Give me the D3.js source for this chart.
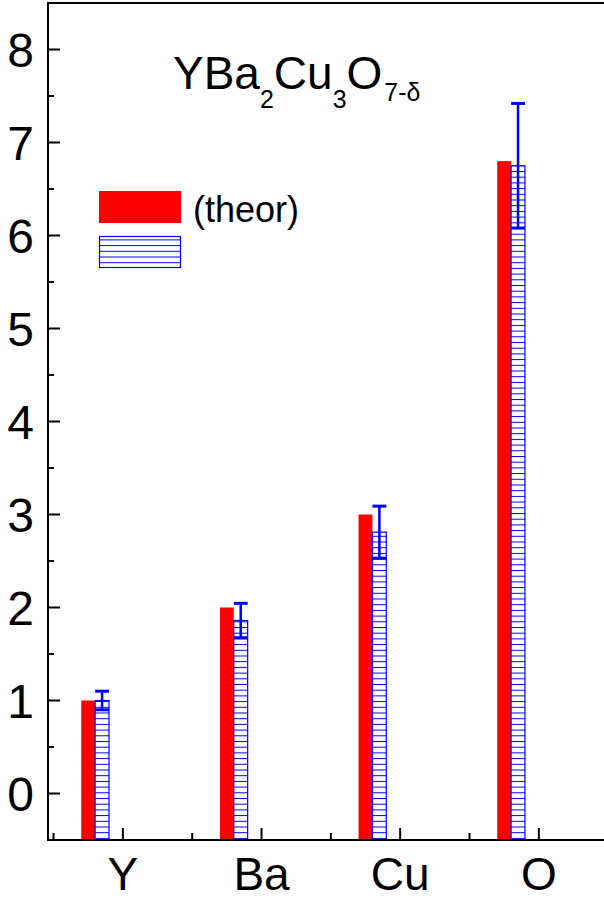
<!DOCTYPE html>
<html>
<head>
<meta charset="utf-8">
<script src="https://cdn.jsdelivr.net/npm/d3@7/dist/d3.min.js"></script>
<style>
  body { margin: 0; background: #fff; }
  svg { display: block; font-family: "Liberation Sans", Arial, Helvetica, sans-serif; }
</style>
</head>
<body>
<svg id="chart" width="604" height="902"></svg>
<script>
// datos
const categories = ["Y", "Ba", "Cu", "O"];
const theor = [1, 2, 3, 6.8];
const measured = [1.0, 1.86, 2.81, 6.75];
const measuredErr = [0.1, 0.185, 0.28, 0.67];
const yTicks = [0, 1, 2, 3, 4, 5, 6, 7, 8];
const yMinorTicks = [0.5, 1.5, 2.5, 3.5, 4.5, 5.5, 6.5, 7.5];
const xMinorTicks = [-0.5, 0.5, 1.5, 2.5];

const svg = d3.select("#chart");

const plotLeft = 48, plotRight = 604, plotTop = 3, plotBottom = 840;
const barW = 0.1; // en unidades de categoría

// Escalas
const x = d3.scaleLinear().domain([-0.54, 3.47]).range([plotLeft, plotRight]);
const y = d3.scaleLinear().domain([-0.5, 8.5]).range([plotBottom, plotTop]);

// Patrón de rayado horizontal
const defs = svg.append("defs");
const pat = defs.append("pattern")
  .attr("id", "hatch")
  .attr("patternUnits", "userSpaceOnUse")
  .attr("width", 20)
  .attr("height", 5.7);
pat.append("rect").attr("width", 20).attr("height", 5.7).attr("fill", "#fff");
pat.append("line")
  .attr("x1", 0).attr("x2", 20)
  .attr("y1", 0.5).attr("y2", 0.5)
  .attr("stroke", "#0000ff")
  .attr("stroke-width", 1);

// Barras teóricas (rojas)
svg.append("g")
  .selectAll("rect")
  .data(theor)
  .enter()
  .append("rect")
  .attr("x", (d, i) => x(i - 0.3))
  .attr("width", x(barW) - x(0))
  .attr("y", (d) => y(d))
  .attr("height", (d) => y(-0.5) - y(d))
  .attr("fill", "#ff0000");

// Barras medidas (rayadas)
svg.append("g")
  .selectAll("rect")
  .data(measured)
  .enter()
  .append("rect")
  .attr("x", (d, i) => x(i - 0.2))
  .attr("width", x(barW) - x(0))
  .attr("y", (d) => y(d))
  .attr("height", (d) => y(-0.5) - y(d))
  .attr("fill", "url(#hatch)")
  .attr("stroke", "#0000ff")
  .attr("stroke-width", 1.2);

// Barras de error
const errG = svg.append("g").attr("stroke", "#0000ff");
measured.forEach((d, i) => {
  const cx = x(i - 0.15);
  const hw = (x(barW) - x(0)) / 2;
  const e = measuredErr[i];
  errG.append("line")
    .attr("x1", cx).attr("x2", cx)
    .attr("y1", y(d + e)).attr("y2", y(d - e))
    .attr("stroke-width", 2.5);
  [d + e, d - e].forEach((v) => {
    errG.append("line")
      .attr("x1", cx - hw).attr("x2", cx + hw)
      .attr("y1", y(v)).attr("y2", y(v))
      .attr("stroke-width", 3);
  });
});

// Ejes
const axes = svg.append("g").attr("stroke", "#000").attr("stroke-width", 2);
axes.append("line").attr("x1", plotLeft).attr("x2", plotLeft).attr("y1", plotTop).attr("y2", plotBottom + 1);
axes.append("line").attr("x1", plotLeft - 1).attr("x2", plotRight).attr("y1", plotBottom).attr("y2", plotBottom);
axes.append("line").attr("x1", plotLeft - 1).attr("x2", plotRight).attr("y1", plotTop).attr("y2", plotTop);

// Ticks Y (hacia dentro)
axes.selectAll(".ymaj")
  .data(yTicks)
  .enter()
  .append("line")
  .attr("x1", plotLeft).attr("x2", plotLeft + 12)
  .attr("y1", (d) => y(d)).attr("y2", (d) => y(d));
axes.selectAll(".ymin")
  .data(yMinorTicks)
  .enter()
  .append("line")
  .attr("x1", plotLeft).attr("x2", plotLeft + 6)
  .attr("y1", (d) => y(d)).attr("y2", (d) => y(d));

// Ticks X
axes.selectAll(".xmaj")
  .data(categories)
  .enter()
  .append("line")
  .attr("x1", (d, i) => x(i)).attr("x2", (d, i) => x(i))
  .attr("y1", plotBottom).attr("y2", plotBottom - 12);
axes.selectAll(".xmin")
  .data(xMinorTicks)
  .enter()
  .append("line")
  .attr("x1", (d) => x(d)).attr("x2", (d) => x(d))
  .attr("y1", plotBottom).attr("y2", plotBottom - 7);

// Etiquetas de ticks
svg.append("g")
  .selectAll("text")
  .data(yTicks)
  .enter()
  .append("text")
  .attr("x", 34)
  .attr("y", (d) => y(d) + 17)
  .attr("text-anchor", "end")
  .attr("font-size", 48)
  .text((d) => d);

svg.append("g")
  .selectAll("text")
  .data(categories)
  .enter()
  .append("text")
  .attr("x", (d, i) => x(i))
  .attr("y", 890)
  .attr("text-anchor", "middle")
  .attr("font-size", 46)
  .text((d) => d);

// Título con subíndices
const title = svg.append("text")
  .attr("x", 173)
  .attr("y", 89)
  .attr("font-size", 46);
title.append("tspan").text("YBa");
title.append("tspan").attr("font-size", 25).attr("dy", 19).text("2");
title.append("tspan").attr("dy", -19).text("Cu");
title.append("tspan").attr("font-size", 25).attr("dy", 19).text("3");
title.append("tspan").attr("dy", -19).text("O");
title.append("tspan").attr("font-size", 25).attr("dy", 12).attr("dx", 2).text("7-δ");

// Leyenda
svg.append("rect")
  .attr("x", 99).attr("y", 191)
  .attr("width", 82).attr("height", 32)
  .attr("fill", "#ff0000");
svg.append("text")
  .attr("x", 193).attr("y", 222)
  .attr("font-size", 36)
  .text("(theor)");
svg.append("rect")
  .attr("x", 99.5).attr("y", 236.5)
  .attr("width", 81).attr("height", 31)
  .attr("fill", "url(#hatch)")
  .attr("stroke", "#0000ff")
  .attr("stroke-width", 1.2);
</script>
</body>
</html>
